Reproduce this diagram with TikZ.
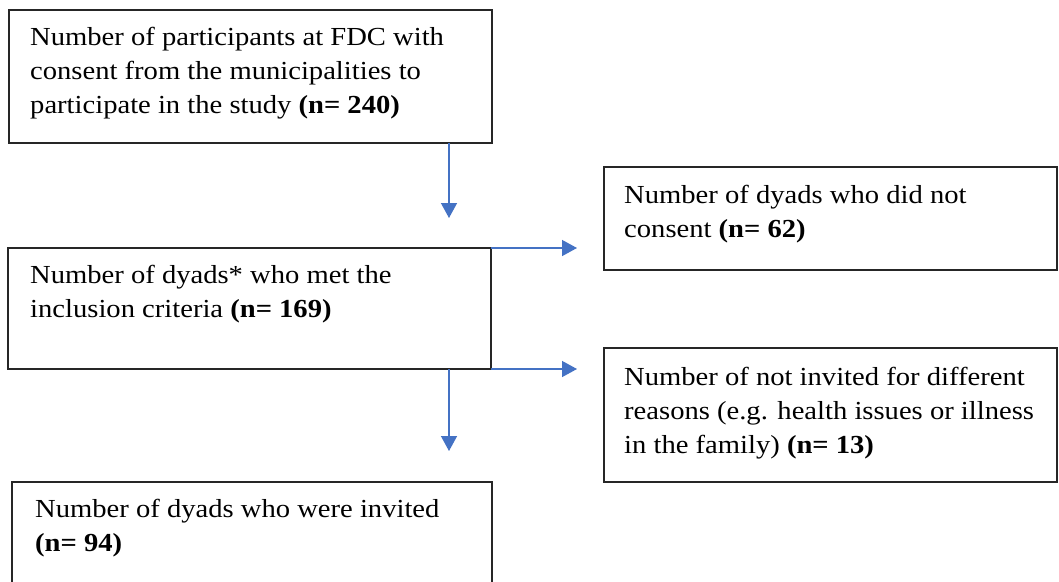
\documentclass[tikz,border=0pt]{standalone}
\usepackage{fontspec}
\setmainfont{Liberation Serif}[FakeStretch=1.1]
\usetikzlibrary{arrows.meta}
\definecolor{arrblue}{HTML}{4472C4}
\tikzset{
  box/.style={draw=black!85, line width=1.4pt, anchor=north west, inner sep=0pt, outer sep=0pt},
  txt/.style={anchor=north west, inner sep=0pt, align=left, font=\fontsize{26}{34}\selectfont},
  arr/.style={draw=arrblue, line width=1.4pt, -{Triangle[width=16pt,length=15pt]}},
}
\begin{document}
\begin{tikzpicture}[x=1pt,y=-1pt]
\clip (0,0) rectangle (1059,581);
\useasboundingbox (0,0) rectangle (1059,581);
\fill[white] (0,0) rectangle (1059,581);
% boxes
\node[box, minimum width=483pt, minimum height=133pt] (b1) at (9,10) {};
\node[box, minimum width=483pt, minimum height=121pt] (b2) at (8,248) {};
\node[box, minimum width=453pt, minimum height=103pt] (r1) at (604,167) {};
\node[box, minimum width=453pt, minimum height=134pt] (r2) at (604,348) {};
\node[box, minimum width=480pt, minimum height=130pt] (b3) at (12,482) {};
% texts
\node[txt] (t1) at (30,27) {Number of participants at FDC with\\consent from the municipalities to\\participate in the study \textbf{(n= 240)}};
\node[txt] (t2) at (30,265) {Number of dyads* who met the\\inclusion criteria \textbf{(n= 169)}};
\node[txt] (t3) at (624,185) {Number of dyads who did not\\consent \textbf{(n= 62)}};
\node[txt] (t4) at (624,367) {Number of not invited for different\\reasons (e.g. health issues or illness\\in the family) \textbf{(n= 13)}};
\node[txt] (t5) at (35,499) {Number of dyads who were invited\\\textbf{(n= 94)}};
% arrow targets
\coordinate (a1) at (449,218);
\coordinate (a2) at (577,248);
\coordinate (a3) at (577,369);
\coordinate (a4) at (449,451);
\draw[arr] (b1.south -| a1) -- (a1);
\draw[arr] (b2.north east) -- (b2.north east -| a2);
\draw[arr] (b2.south east) -- (b2.south east -| a3);
\draw[arr] (b2.south -| a4) -- (a4);
\end{tikzpicture}
\end{document}
